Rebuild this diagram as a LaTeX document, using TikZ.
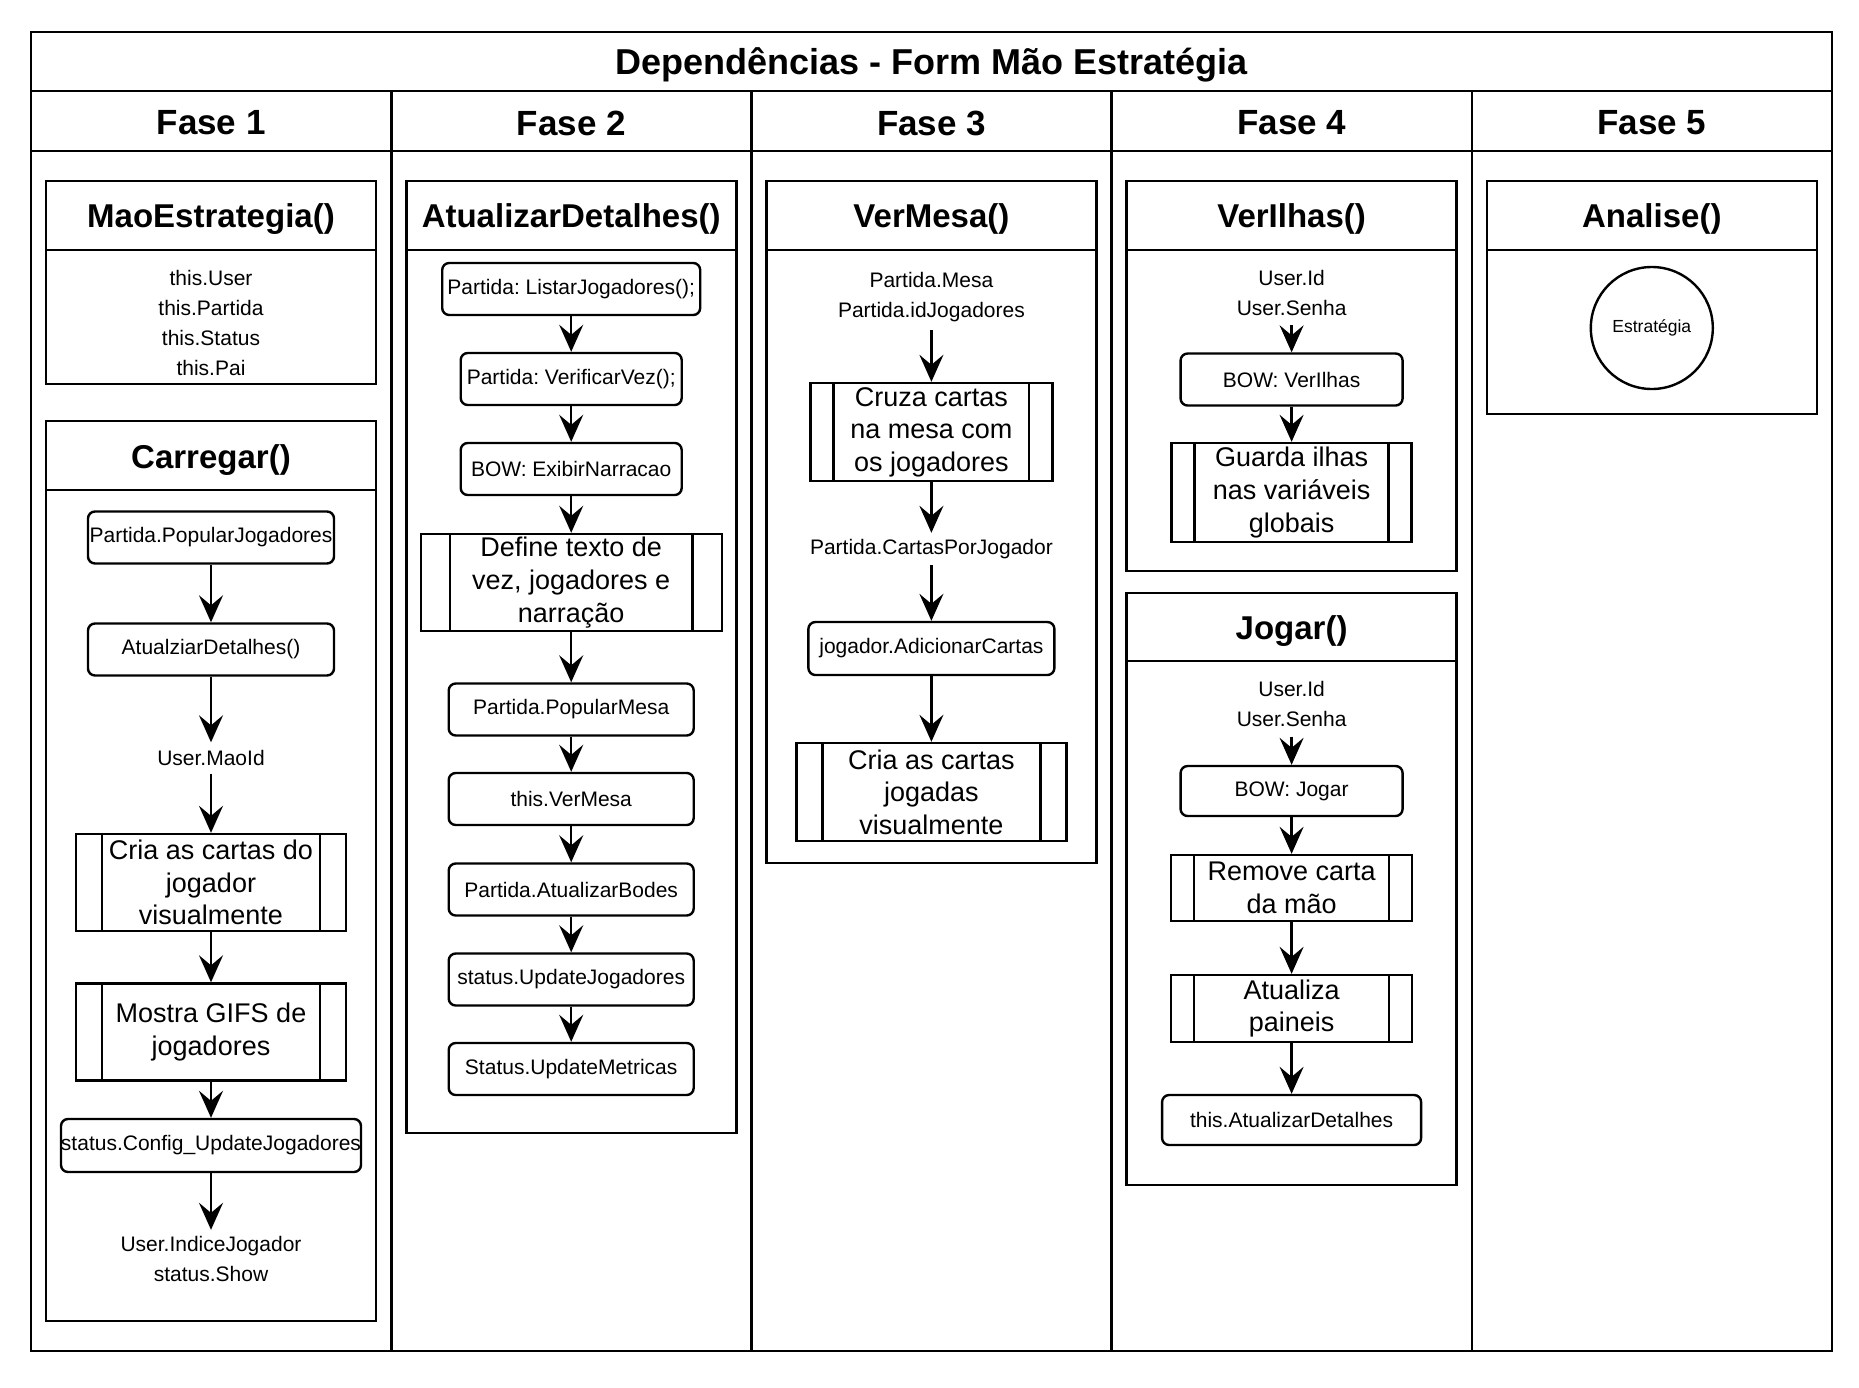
\documentclass[tikz,border=0pt]{standalone}
\usepackage{fontspec}
\setmainfont{Liberation Sans}
\usetikzlibrary{arrows.meta, positioning, calc}

\tikzset{
  lane/.style={draw, line width=2.6pt},
  ttl/.style={font=\bfseries\fontsize{33}{40}\selectfont},
  fase/.style={font=\bfseries\fontsize{35}{42}\selectfont},
  call/.style={draw, line width=2.4pt, rounded corners=7pt, minimum height=52pt, inner sep=0pt, font=\fontsize{21}{30}\selectfont},
  proc/.style={draw, line width=2.4pt, align=center, inner sep=0pt, font=\fontsize{27}{32.6}\selectfont},
  vtext/.style={align=center, inner sep=0pt, font=\fontsize{21}{30}\selectfont},
  flow/.style={line width=2.4pt, -{Stealth[length=27pt, width=24pt, inset=10pt]}},
}

\begin{document}
\frenchspacing
\begin{tikzpicture}[x=1pt, y=-1pt]
  \useasboundingbox (0,0) rectangle (1859,1387);
  % ---------- FRAME ----------
  \draw[lane] (31,32) rectangle (1832,1351);
  \draw[lane] (31,91) -- (1832,91);
  \draw[lane] (31,151) -- (1832,151);
  \foreach \i in {1,...,4} \draw[lane] ({31+360.2*\i},91) -- ({31+360.2*\i},1351);
  \node[fase, font=\bfseries\fontsize{36}{42}\selectfont] (title) at (931.5,64.5) {Dependências - Form Mão Estratégia};
  \foreach \i in {1,...,5} \node[fase] (fase\i) at ({31+360.2*(\i-0.5)},123) {Fase \i};
  % ---------- FASE 1 ----------
  \begin{scope}[xshift=31pt]
    \draw[lane] (15,181) rectangle (345,384);
    \draw[lane] (15,250) -- (345,250);
    \node[ttl] (mao) at (180,219) {MaoEstrategia()};
    \node[vtext] (maoattr) at (180,323) {this.User\\this.Partida\\this.Status\\this.Pai};
    \draw[lane] (15,421) rectangle (345,1321);
    \draw[lane] (15,490) -- (345,490);
    \node[ttl] (carregar) at (180,460) {Carregar()};
    \node[call, minimum width=246pt] (popjog) at (180,537.5) {Partida.PopularJogadores};
    \node[call, minimum width=246pt] (atdet) at (180,649.5) {AtualziarDetalhes()};
    \node[vtext, minimum height=31pt] (maoid) at (180,758) {User.MaoId};
    \node[proc, minimum width=270pt, minimum height=97pt] (criacartas) at (180,882.5) {Cria as cartas do\\jogador\\visualmente};
    \node[proc, minimum width=270pt, minimum height=97pt] (gifs) at (180,1032) {Mostra GIFS de\\jogadores};
    \node[call, minimum width=300pt, minimum height=53pt] (config) at (180,1145.5) {status.Config\_UpdateJogadores};
    \node[vtext, minimum height=58pt] (indice) at (180,1259) {User.IndiceJogador\\status.Show};
  \end{scope}
  % ---------- FASE 2 ----------
  \begin{scope}[xshift=391.2pt]
    \draw[lane] (15,181) rectangle (345,1133);
    \draw[lane] (15,250) -- (345,250);
    \node[ttl] (atualizar) at (180,219) {AtualizarDetalhes()};
    \node[call, minimum width=258pt] (listar) at (180,289) {Partida: ListarJogadores();};
    \node[call, minimum width=221pt] (vez) at (180,379) {Partida: VerificarVez();};
    \node[call, minimum width=221pt] (narracao) at (180,469) {BOW: ExibirNarracao};
    \node[proc, minimum width=301pt, minimum height=97pt] (definetxt) at (180,582.5) {Define texto de\\vez, jogadores e\\narração};
    \node[call, minimum width=245pt] (popmesa) at (180,709.5) {Partida.PopularMesa};
    \node[call, minimum width=245pt] (vermesa) at (180,799) {this.VerMesa};
    \node[call, minimum width=245pt] (bodes) at (180,889.5) {Partida.AtualizarBodes};
    \node[call, minimum width=245pt] (upjog) at (180,979.5) {status.UpdateJogadores};
    \node[call, minimum width=245pt] (upmet) at (180,1069) {Status.UpdateMetricas};
  \end{scope}
  % ---------- FASE 3 ----------
  \begin{scope}[xshift=751.4pt]
    \draw[lane] (15,181) rectangle (345,863);
    \draw[lane] (15,250) -- (345,250);
    \node[ttl] (vermesattl) at (180,219) {VerMesa()};
    \node[vtext, minimum height=66pt] (mesavars) at (180,297) {Partida.Mesa\\Partida.idJogadores};
    \node[proc, minimum width=242pt, minimum height=98pt] (cruza) at (180,432) {Cruza cartas\\na mesa com\\os jogadores};
    \node[vtext, minimum height=32pt] (cartasjog) at (180,549) {Partida.CartasPorJogador};
    \node[call, minimum width=246pt, minimum height=53pt] (addcartas) at (180,648.5) {jogador.AdicionarCartas};
    \node[proc, minimum width=270pt, minimum height=98pt] (criajogadas) at (180,792) {Cria as cartas\\jogadas\\visualmente};
  \end{scope}
  % ---------- FASE 4 ----------
  \begin{scope}[xshift=1111.6pt]
    \draw[lane] (15,181) rectangle (345,571);
    \draw[lane] (15,250) -- (345,250);
    \node[ttl] (verilhas) at (180,219) {VerIlhas()};
    \node[vtext, minimum height=64pt] (ilhasvars) at (180,293) {User.Id\\User.Senha};
    \node[call, minimum width=222pt] (bowilhas) at (180,379.5) {BOW: VerIlhas};
    \node[proc, minimum width=240pt, minimum height=99pt] (guarda) at (180,492.5) {Guarda ilhas\\nas variáveis\\globais};
    \draw[lane] (15,593) rectangle (345,1185);
    \draw[lane] (15,661) -- (345,661);
    \node[ttl] (jogar) at (180,631.5) {Jogar()};
    \node[vtext, minimum height=66pt] (jogarvars) at (180,703.5) {User.Id\\User.Senha};
    \node[call, minimum width=222pt, minimum height=50pt] (bowjogar) at (180,791) {BOW: Jogar};
    \node[proc, minimum width=241pt, minimum height=66pt] (remove) at (180,888) {Remove carta\\da mão};
    \node[proc, minimum width=241pt, minimum height=67pt] (paineis) at (180,1008.5) {Atualiza\\paineis};
    \node[call, minimum width=259pt, minimum height=50pt] (atdetjogar) at (180,1120) {this.AtualizarDetalhes};
  \end{scope}
  % ---------- FASE 5 ----------
  \begin{scope}[xshift=1471.8pt]
    \draw[lane] (15,181) rectangle (345,414);
    \draw[lane] (15,250) -- (345,250);
    \node[ttl] (analise) at (180,219) {Analise()};
    \node[circle, draw, line width=2.4pt, minimum size=122pt, inner sep=0pt, font=\fontsize{17.5}{21}\selectfont] (estrategia) at (180,328) {Estratégia};
  \end{scope}
  % ---------- PROCESS BARS ----------
  \foreach \n in {criacartas, gifs, definetxt, cruza, criajogadas, guarda, remove, paineis} {
    \draw[line width=2.4pt] ($(\n.north west)!0.1!(\n.north east)$) -- ($(\n.south west)!0.1!(\n.south east)$);
    \draw[line width=2.4pt] ($(\n.north west)!0.9!(\n.north east)$) -- ($(\n.south west)!0.9!(\n.south east)$);
  }
  % ---------- ARROWS ----------
  \foreach \a/\b in {popjog/atdet, atdet/maoid, maoid/criacartas, criacartas/gifs, gifs/config, config/indice,
    listar/vez, vez/narracao, narracao/definetxt, definetxt/popmesa, popmesa/vermesa, vermesa/bodes, bodes/upjog, upjog/upmet,
    mesavars/cruza, cruza/cartasjog, cartasjog/addcartas, addcartas/criajogadas,
    ilhasvars/bowilhas, bowilhas/guarda,
    jogarvars/bowjogar, bowjogar/remove, remove/paineis, paineis/atdetjogar}
    \draw[flow] (\a) -- (\b);
\end{tikzpicture}
\end{document}
